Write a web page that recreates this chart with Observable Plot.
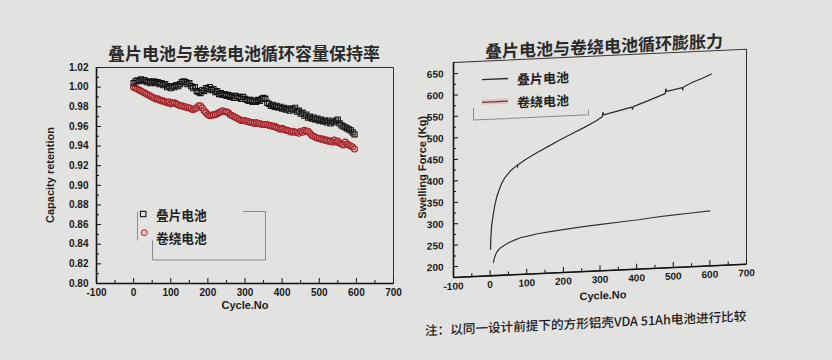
<!DOCTYPE html>
<html><head><meta charset="utf-8">
<script src="https://cdn.jsdelivr.net/npm/d3@7"></script>
<script src="https://cdn.jsdelivr.net/npm/@observablehq/plot@0.6"></script>
<style>
html,body{margin:0;padding:0;}
body{width:832px;height:360px;background:#e2e2e0;position:relative;overflow:hidden;font-family:"Liberation Sans",Arial,sans-serif;}
.abs{position:absolute;}
.title{font-family:"Noto Sans CJK SC",sans-serif;font-weight:bold;font-size:17px;color:#2a2a2a;white-space:nowrap;transform:translate(-50%,-50%);}
.axlab{font-weight:bold;font-size:11px;color:#1e1e1e;white-space:nowrap;}
.note{font-family:"Noto Sans CJK SC",sans-serif;font-size:12.6px;color:#1c1c1c;white-space:nowrap;font-weight:500;}
</style></head><body>

<div class="abs title" style="left:244px;top:52px">叠片电池与卷绕电池循环容量保持率</div>
<div id="leftPlot" class="abs" style="left:0;top:58px"></div>
<div class="abs axlab" style="left:50px;top:175px;transform:translate(-50%,-50%) rotate(-90deg)">Capacity retention</div>
<div class="abs axlab" style="left:245px;top:305px;transform:translate(-50%,-50%)">Cycle.No</div>
<svg class="abs" style="left:0;top:0" width="416" height="360">
  <g stroke="#8a8a8a" stroke-width="1" fill="none">
    <path d="M137.5,211.5V240.5"/>
    <path d="M243,211.5H265.5V260H152.5V240.5"/>
  </g>
  <rect x="140.5" y="211.3" width="5.4" height="5.4" fill="none" stroke="#151515" stroke-width="1.1"/>
  <circle cx="144.3" cy="232.7" r="3" fill="#e3a0a0" fill-opacity="0.45" stroke="#b3262b" stroke-width="1"/>
  <g font-family="Noto Sans CJK SC" font-size="12.7" font-weight="bold" fill="#222">
    <text x="156" y="214" dominant-baseline="central">叠片电池</text>
    <text x="156" y="237" dominant-baseline="central">卷绕电池</text>
  </g>
</svg>

<div id="right" class="abs" style="left:416px;top:0;width:416px;height:360px;transform:skewY(-2.6deg);transform-origin:37px 0;">
  <div class="abs title" style="left:188px;top:52px">叠片电池与卷绕电池循环膨胀力</div>
  <div id="rightPlot" class="abs" style="left:0;top:50px"></div>
  <div class="abs axlab" style="left:6px;top:166px;transform:translate(-50%,-50%) rotate(-90deg)">Swelling Force (Kg)</div>
  <div class="abs axlab" style="left:187px;top:302px;transform:translate(-50%,-50%)">Cycle.No</div>
  <svg class="abs" style="left:0;top:0" width="416" height="360">
    <path d="M57.5,109V121H172.5V116" stroke="#8a8a8a" fill="none"/>
    <line x1="66" x2="92" y1="81" y2="81" stroke="#2a2a2a" stroke-width="1.3"/>
    <line x1="66" x2="92" y1="103.6" y2="103.6" stroke="#dcc2c2" stroke-width="5"/>
    <line x1="66" x2="92" y1="103.6" y2="103.6" stroke="#6b3f3f" stroke-width="1.3"/>
    <g font-family="Noto Sans CJK SC" font-size="13" font-weight="bold" fill="#222">
      <text x="101" y="82" dominant-baseline="central">叠片电池</text>
      <text x="101" y="105" dominant-baseline="central">卷绕电池</text>
    </g>
  </svg>
  <div class="abs note" style="left:9px;top:319px">注：以同一设计前提下的方形铝壳VDA 51Ah电池进行比较</div>
</div>

<script>
// ---------- shared axis data ----------
const xDomain = [-100, 700];
const xTicks = [-100, 0, 100, 200, 300, 400, 500, 600, 700];
const xMinorTicks = [-50, 50, 150, 250, 350, 450, 550, 650];

// ---------- left chart: capacity retention ----------
const retentionDomain = [0.80, 1.02];
const retentionTicks = [0.80, 0.82, 0.84, 0.86, 0.88, 0.90, 0.92, 0.94, 0.96, 0.98, 1.00, 1.02];
const retentionMinor = [0.81, 0.83, 0.85, 0.87, 0.89, 0.91, 0.93, 0.95, 0.97, 0.99, 1.01];
const retentionCycles = [
  0,5,10,15,20,25,30,35,40,45,
  50,55,60,65,70,75,80,85,90,95,
  100,105,110,115,120,125,130,135,140,145,
  150,155,160,165,170,175,180,185,190,195,
  200,205,210,215,220,225,230,235,240,245,
  250,255,260,265,270,275,280,285,290,295,
  300,305,310,315,320,325,330,335,340,345,
  350,355,360,365,370,375,380,385,390,395,
  400,405,410,415,420,425,430,435,440,445,
  450,455,460,465,470,475,480,485,490,495,
  500,505,510,515,520,525,530,535,540,545,
  550,555,560,565,570,575,580,585,590,595];
const stackedRetention = [
  1.004,1.006,1.007,1.006,1.008,1.007,1.007,1.005,1.006,1.004,
  1.005,1.006,1.004,1.005,1.003,1.004,1.002,1.003,1.000,1.001,
  0.999,1.001,1.000,1.002,1.001,1.003,1.005,1.006,1.005,1.003,
  1.004,1.001,0.999,1.000,0.996,0.995,0.994,0.997,0.996,0.999,
  0.998,1.000,0.997,0.998,0.995,0.996,0.993,0.994,0.992,0.993,
  0.991,0.992,0.990,0.991,0.989,0.991,0.989,0.990,0.988,0.990,
  0.988,0.987,0.986,0.987,0.985,0.986,0.985,0.987,0.986,0.988,
  0.989,0.988,0.984,0.983,0.981,0.982,0.980,0.981,0.979,0.980,
  0.978,0.979,0.977,0.978,0.976,0.978,0.977,0.979,0.975,0.976,
  0.973,0.974,0.971,0.972,0.969,0.970,0.968,0.969,0.967,0.968,
  0.966,0.967,0.965,0.966,0.964,0.966,0.963,0.965,0.964,0.966,
  0.967,0.963,0.961,0.960,0.959,0.958,0.957,0.956,0.954,0.952];
const woundRetention = [
  1.000,0.999,0.998,0.997,0.996,0.995,0.994,0.993,0.992,0.991,
  0.990,0.989,0.988,0.988,0.987,0.986,0.986,0.985,0.984,0.985,
  0.983,0.984,0.984,0.983,0.982,0.981,0.981,0.980,0.980,0.979,
  0.979,0.978,0.977,0.978,0.979,0.981,0.981,0.979,0.976,0.974,
  0.972,0.971,0.971,0.972,0.972,0.973,0.974,0.975,0.976,0.975,
  0.975,0.974,0.972,0.971,0.970,0.969,0.968,0.967,0.966,0.966,
  0.966,0.965,0.965,0.964,0.964,0.963,0.964,0.963,0.963,0.962,
  0.962,0.962,0.962,0.961,0.961,0.960,0.960,0.959,0.958,0.957,
  0.958,0.957,0.956,0.956,0.955,0.954,0.955,0.954,0.954,0.953,
  0.955,0.954,0.956,0.955,0.955,0.953,0.951,0.950,0.949,0.948,
  0.948,0.947,0.947,0.946,0.946,0.945,0.945,0.944,0.946,0.944,
  0.945,0.943,0.942,0.941,0.944,0.942,0.941,0.940,0.939,0.937];

// ---------- right chart: swelling force ----------
const forceDomain = [175, 676];
const forceTicks = [200, 250, 300, 350, 400, 450, 500, 550, 600, 650];
const forceMinor = [225, 275, 325, 375, 425, 475, 525, 575, 625];
const stackedForceCycles = [1,2,4,6,9,12,18,25,32,41,55,74,75,76,100,130,160,190,222,260,290,306,308,310,340,387,389,391,430,478,480,482,500,525,526,527,554,580,604];
const stackedForce = [237,265,290,303,320,335,358,375,390,403,417,430,425,431,444,458,471,484,497,512,525,534,544,538,544,553,548,554,566,581,592,586,589,593,587,594,605,613,622];
const woundForceCycles = [9,11,15,20,28,38,50,65,84,100,130,160,190,222,260,314,360,405,450,497,550,600];
const woundForce = [206,214,224,232,239,244,250,255,261,263,268,271,274,277,280,284,287,290,294,297,300,303];

const stackedRet = retentionCycles.map((c, i) => ({cycle: c, value: stackedRetention[i]}));
const woundRet = retentionCycles.map((c, i) => ({cycle: c, value: woundRetention[i]}));
const stackedF = stackedForceCycles.map((c, i) => ({cycle: c, value: stackedForce[i]}));
const woundF = woundForceCycles.map((c, i) => ({cycle: c, value: woundForce[i]}));

const axisStyle = {background: "transparent", fontFamily: "Liberation Sans, Arial, sans-serif", fontSize: "10px", fontWeight: "bold", color: "#1a1a1a", overflow: "visible"};
const fmtInt = d => String(d);

// inward ticks: outward axis ticks shifted into the frame
function axesMarks(yTicks, yMinor, yFormat, yPad) {
  return [
    Plot.axisX(xTicks, {tickSize: 0, tickPadding: 5, tickFormat: fmtInt, label: null}),
    Plot.axisX(xTicks, {tickSize: 5, dy: -5, fill: "none", label: null, stroke: "#111"}),
    Plot.axisX(xMinorTicks, {tickSize: 3, dy: -3, fill: "none", label: null, stroke: "#111"}),
    Plot.axisY(yTicks, {tickSize: 0, tickPadding: yPad, tickFormat: yFormat, label: null}),
    Plot.axisY(yTicks, {tickSize: 5, dx: 5, fill: "none", label: null, stroke: "#111"}),
    Plot.axisY(yMinor, {tickSize: 3, dx: 3, fill: "none", label: null, stroke: "#111"})
  ];
}

const left = Plot.plot({
  width: 416, height: 262,
  marginLeft: 96, marginRight: 23, marginTop: 9, marginBottom: 37,
  style: axisStyle,
  x: {domain: xDomain},
  y: {domain: retentionDomain},
  marks: [
    Plot.frame({stroke: "#333", strokeWidth: 1}),
    ...axesMarks(retentionTicks, retentionMinor, d3.format(".2f"), 8),
    Plot.ruleX([xDomain[0]], {stroke: "#111", strokeWidth: 1.6}),
    Plot.ruleY([retentionDomain[0]], {stroke: "#111", strokeWidth: 1.6}),
    Plot.dot(woundRet, {x: "cycle", y: "value", symbol: "circle", r: 3, stroke: "#a52228", strokeWidth: 1.1, fill: "#d88a8a", fillOpacity: 0.3}),
    Plot.dot(stackedRet, {x: "cycle", y: "value", symbol: "square", r: 2.9, stroke: "#151515", strokeWidth: 1.1, fill: "none"})
  ]
});
document.getElementById("leftPlot").append(left);

const right = Plot.plot({
  width: 416, height: 262,
  marginLeft: 37, marginRight: 86, marginTop: 12, marginBottom: 35,
  style: axisStyle,
  x: {domain: xDomain},
  y: {domain: forceDomain},
  marks: [
    Plot.frame({stroke: "#333", strokeWidth: 1}),
    ...axesMarks(forceTicks, forceMinor, fmtInt, 10),
    Plot.ruleX([xDomain[0]], {stroke: "#111", strokeWidth: 1.6}),
    Plot.ruleY([forceDomain[0]], {stroke: "#111", strokeWidth: 1.6}),
    Plot.line(woundF, {x: "cycle", y: "value", stroke: "#3b3232", strokeWidth: 1.2}),
    Plot.line(stackedF, {x: "cycle", y: "value", stroke: "#2b2b2b", strokeWidth: 1.2})
  ]
});
document.getElementById("rightPlot").append(right);
</script>
</body></html>
